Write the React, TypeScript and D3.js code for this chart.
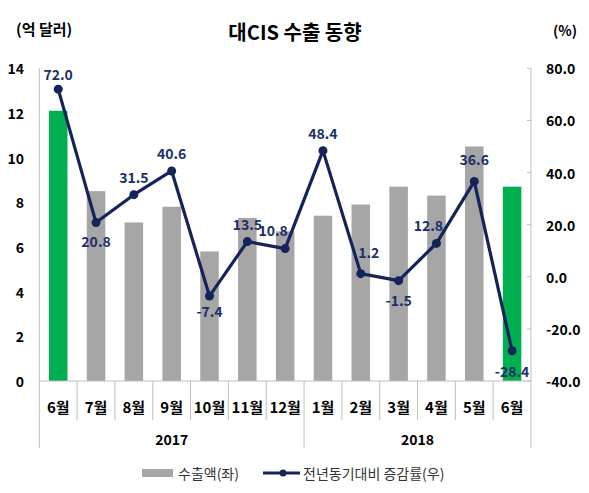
import React from "react";
import * as d3 from "d3";

const months = ["6월", "7월", "8월", "9월", "10월", "11월", "12월", "1월", "2월", "3월", "4월", "5월", "6월"];
const exports = [12.1, 8.5, 7.1, 7.8, 5.8, 7.3, 6.7, 7.4, 7.9, 8.7, 8.3, 10.5, 8.7];
const growth = [72.0, 20.8, 31.5, 40.6, -7.4, 13.5, 10.8, 48.4, 1.2, -1.5, 12.8, 36.6, -28.4];
const highlight = [true, false, false, false, false, false, false, false, false, false, false, false, true];
const years = [
  { label: "2017", start: 0, end: 6 },
  { label: "2018", start: 7, end: 12 },
];
const leftTicks = [0, 2, 4, 6, 8, 10, 12, 14];
const rightTicks = [-40, -20, 0, 20, 40, 60, 80];
// label placement: side ("t" above / "b" below) and nudges
const labelSide = ["t", "b", "t", "t", "b", "t", "t", "t", "t", "b", "t", "t", "b"];
const labelNudge = [0, 0, 0, 0, 0, 0, -12, 0, 8, 0, -8, 0, 0];
const labelLift = [15, 18, 18, 18, 15, 18, 19, 18, 22, 19, 18, 22, 20];

const W = 589;
const H = 493;
const FONT = "'Noto Sans CJK KR', 'Noto Sans', sans-serif";
const NAVY = "#14245a";
const LABEL = "#1c2f66";
const GRAY = "#a6a6a6";
const GREEN = "#00b050";
const AXIS = "#bfbfbf";

export default function App() {
  const left = 39.3;
  const right = 531;
  const top = 68.3;
  const bottom = 381;

  const idx = months.map((_, i) => i);
  const x = d3.scaleBand<number>().domain(idx).range([left, right]).padding(0);
  const bw = x.bandwidth();
  const barW = bw * 0.49;
  const yL = d3.scaleLinear().domain([0, 14]).range([bottom, top]);
  const yR = d3.scaleLinear().domain([-40, 80]).range([bottom, top]);
  const cx = (i: number) => (x(i) as number) + bw / 2;

  const line = d3
    .line<number>()
    .x((_, i) => cx(i))
    .y((d) => yR(d));

  return (
    <div style={{ position: "absolute", left: 0, top: 0 }}>
      <svg width={W} height={H} style={{ display: "block", background: "#fff" }} fontFamily={FONT}>
        {/* titles */}
        <text x={295} y={31} textAnchor="middle" dominantBaseline="central" fontSize={20} fontWeight={700} fill="#000">
          대CIS 수출 동향
        </text>
        <text x={16} y={28} dominantBaseline="central" fontSize={15} fontWeight={700} fill="#000">
          (억 달러)
        </text>
        <text x={577} y={30} textAnchor="end" dominantBaseline="central" fontSize={14} fontWeight={700} fill="#000">
          (%)
        </text>

        {/* left axis */}
        <line x1={left} x2={left} y1={top} y2={bottom} stroke={AXIS} strokeWidth={1} />
        {leftTicks.map((t) => (
          <text key={"l" + t} x={24} y={yL(t)} textAnchor="end" dominantBaseline="central" fontSize={14} fontWeight={700} fill="#000">
            {t}
          </text>
        ))}

        {/* right axis */}
        <line x1={right} x2={right} y1={top} y2={bottom} stroke={AXIS} strokeWidth={1} />
        {rightTicks.map((t) => (
          <g key={"r" + t}>
            <line x1={right - 4} x2={right} y1={yR(t)} y2={yR(t)} stroke={AXIS} strokeWidth={1} />
            <text x={546} y={yR(t)} dominantBaseline="central" fontSize={14} fontWeight={700} fill="#000">
              {t.toFixed(1)}
            </text>
          </g>
        ))}

        {/* bars */}
        {exports.map((v, i) => (
          <rect
            key={"b" + i}
            x={cx(i) - barW / 2}
            y={yL(v)}
            width={barW}
            height={yL(0) - yL(v)}
            fill={highlight[i] ? GREEN : GRAY}
          />
        ))}

        {/* baseline and category separators */}
        <line x1={left} x2={right} y1={bottom} y2={bottom} stroke={AXIS} strokeWidth={1} />
        {idx.concat([months.length]).map((i) => {
          const xx = i < months.length ? (x(i) as number) : right;
          const isYear = years.some((yr) => yr.start === i) || i === months.length;
          return (
            <line key={"s" + i} x1={xx} x2={xx} y1={bottom} y2={isYear ? 448 : 420} stroke={AXIS} strokeWidth={1} />
          );
        })}
        {months.map((m, i) => (
          <text key={"m" + i} x={cx(i)} y={406} textAnchor="middle" dominantBaseline="central" fontSize={15} fontWeight={700} fill="#000">
            {m}
          </text>
        ))}
        {years.map((yr) => (
          <text
            key={yr.label}
            x={((x(yr.start) as number) + (x(yr.end) as number) + bw) / 2}
            y={439}
            textAnchor="middle"
            dominantBaseline="central"
            fontSize={14}
            fontWeight={700}
            fill="#000"
          >
            {yr.label}
          </text>
        ))}

        {/* growth line */}
        <path d={line(growth) || ""} fill="none" stroke={NAVY} strokeWidth={3.2} strokeLinejoin="round" />
        {growth.map((v, i) => (
          <circle key={"c" + i} cx={cx(i)} cy={yR(v)} r={4.5} fill={NAVY} />
        ))}
        {growth.map((v, i) => (
          <text
            key={"t" + i}
            x={cx(i) + labelNudge[i]}
            y={yR(v) + (labelSide[i] === "t" ? -labelLift[i] : labelLift[i])}
            textAnchor="middle"
            dominantBaseline="central"
            fontSize={14}
            fontWeight={700}
            fill={LABEL}
          >
            {v.toFixed(1)}
          </text>
        ))}

        {/* legend */}
        <rect x={142} y={469} width={31} height={8} fill={GRAY} />
        <text x={178} y={473} dominantBaseline="central" fontSize={14} fill="#333">
          수출액(좌)
        </text>
        <line x1={263} x2={300} y1={473} y2={473} stroke={NAVY} strokeWidth={3} />
        <circle cx={283} cy={473} r={3.5} fill={NAVY} />
        <text x={303} y={473} dominantBaseline="central" fontSize={14} fill="#333">
          전년동기대비 증감률(우)
        </text>
      </svg>
    </div>
  );
}
